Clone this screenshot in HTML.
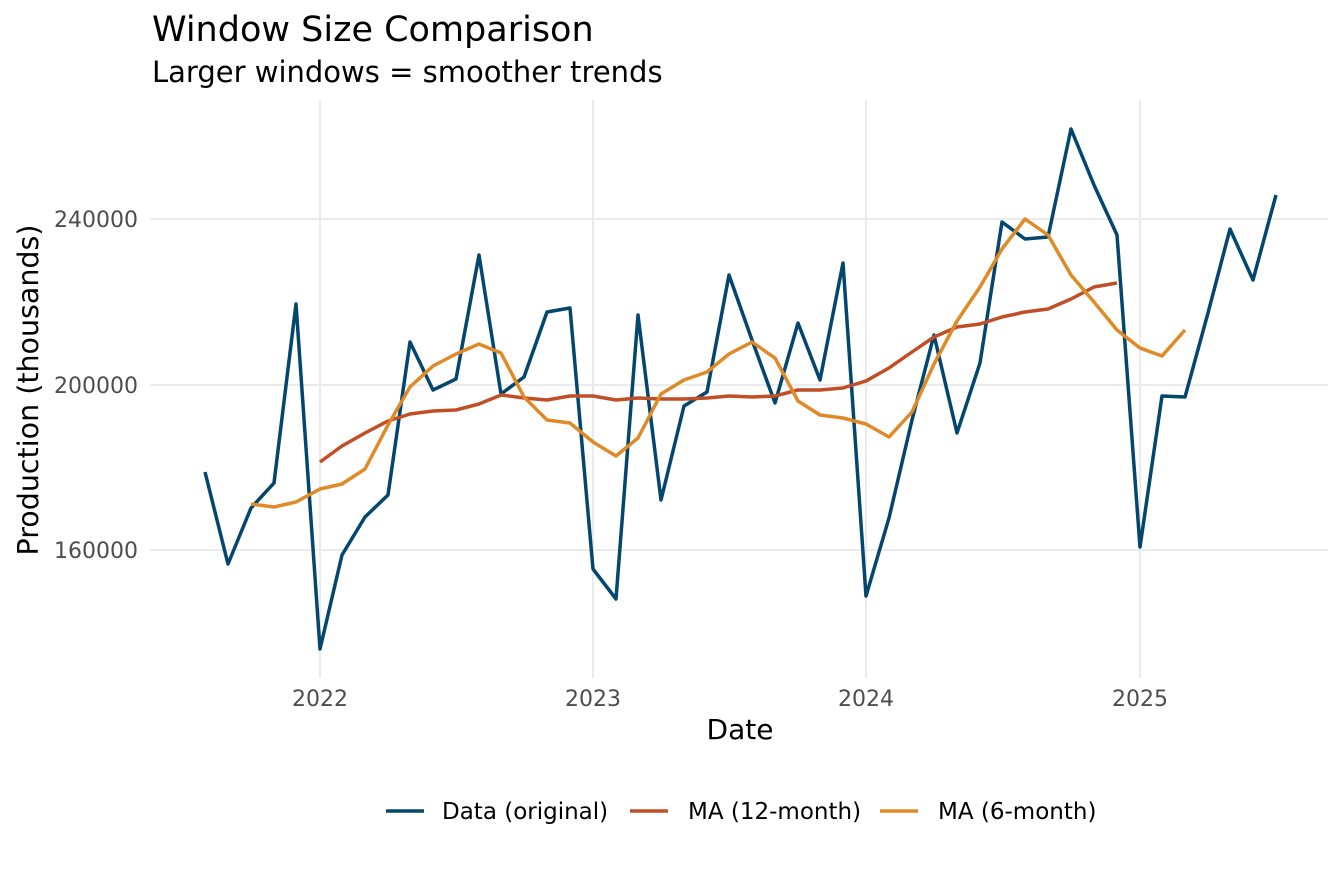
<!DOCTYPE html>
<html><head><meta charset="utf-8"><style>
body{margin:0;background:#fff;}
svg text{font-family:"DejaVu Sans",sans-serif;}
</style></head><body>
<svg width="1344" height="864" viewBox="0 0 1344 864" xmlns="http://www.w3.org/2000/svg">
<rect width="1344" height="864" fill="#fff"/>
<g stroke="#ebebeb" stroke-width="2">
<line x1="150" x2="1328" y1="219" y2="219"/>
<line x1="150" x2="1328" y1="385" y2="385"/>
<line x1="150" x2="1328" y1="550" y2="550"/>
<line x1="320" x2="320" y1="100" y2="678"/>
<line x1="593" x2="593" y1="100" y2="678"/>
<line x1="866" x2="866" y1="100" y2="678"/>
<line x1="1140" x2="1140" y1="100" y2="678"/>
</g>
<g fill="#4d4d4d" font-size="22">
<text x="138" y="227" text-anchor="end">240000</text>
<text x="138" y="393" text-anchor="end">200000</text>
<text x="138" y="558" text-anchor="end">160000</text>
<text x="320" y="706" text-anchor="middle">2022</text>
<text x="593" y="706" text-anchor="middle">2023</text>
<text x="866" y="706" text-anchor="middle">2024</text>
<text x="1140" y="706" text-anchor="middle">2025</text>
</g>
<text x="740" y="739" font-size="28" text-anchor="middle" fill="#000">Date</text>
<text transform="translate(38,390) rotate(-90)" font-size="28.5" text-anchor="middle" fill="#000">Production (thousands)</text>
<text x="152" y="41" font-size="35" fill="#000">Window Size Comparison</text>
<text x="152" y="82" font-size="29" fill="#000">Larger windows = smoother trends</text>
<g fill="none" stroke-width="3.5" stroke-linejoin="round">
<polyline stroke="#03466e" points="205,472 228,564 251,508 274,483 296,304 320,649 342,555 365,517 388,495 410,342 433,390 456,379 479,255 501,394 524,377 547,312 570,308 593,569 616,599 638,315 661,500 684,406 707,392 729,275 752,340 775,403 798,323 820,380 843,263 866,596 889,518 912,420 934,335 957,433 980,363 1002,222 1025,239 1048,237 1071,129 1094,185 1117,235 1140,547 1162,396 1185,397 1208,313 1230,229 1253,280 1276,195"/>
<polyline stroke="#c04f27" points="320,462 342,446 365,433 388,421 410,414 433,411 456,410 479,404 501,395 524,398 547,400 570,396 593,396 616,400 638,398 661,399 684,399 707,398 729,396 752,397 775,396 798,390 820,390 843,388 866,381 889,368 912,352 934,337 957,327 980,324 1002,317 1025,312 1048,309 1071,299 1094,287 1117,283"/>
<polyline stroke="#e08a27" points="251,504 274,507 296,502 320,489 342,484 365,469 388,425 410,387 433,366 456,354 479,344 501,353 524,397 547,420 570,423 593,442 616,456 638,438 661,394 684,380 707,372 729,354 752,342 775,358 798,401 820,415 843,418 866,424 889,437 912,412 934,364 957,321 980,287 1002,249 1025,219 1048,235 1071,275 1094,302 1117,330 1140,348 1162,356 1185,330"/>
</g>
<g font-size="23" fill="#000">
<line x1="386" x2="424" y1="811" y2="811" stroke="#03466e" stroke-width="3.5"/>
<text x="442" y="819">Data (original)</text>
<line x1="630" x2="668" y1="811" y2="811" stroke="#c04f27" stroke-width="3.5"/>
<text x="688" y="819">MA (12-month)</text>
<line x1="880" x2="918" y1="811" y2="811" stroke="#e08a27" stroke-width="3.5"/>
<text x="938" y="819">MA (6-month)</text>
</g>
</svg>
</body></html>
